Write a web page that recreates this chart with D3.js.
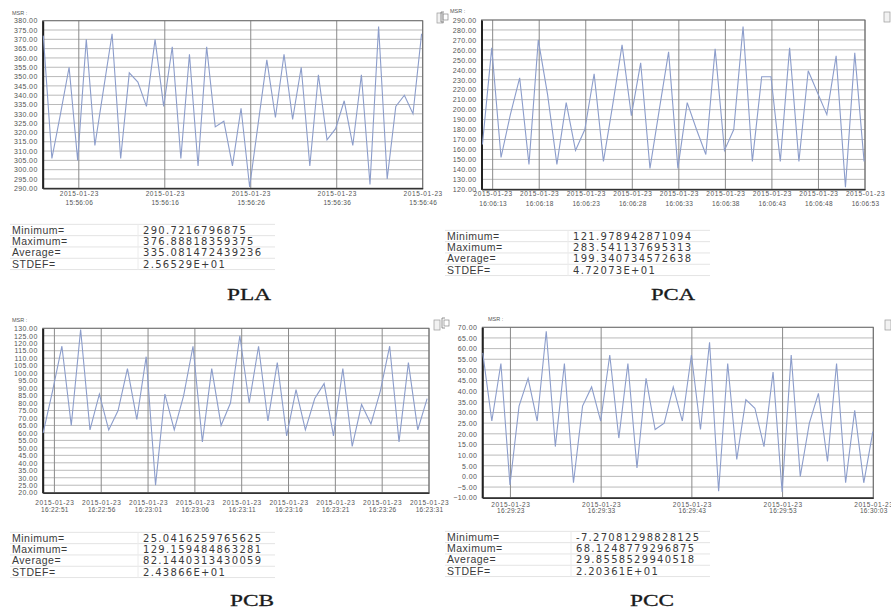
<!DOCTYPE html>
<html><head><meta charset="utf-8">
<script src="https://cdn.jsdelivr.net/npm/d3@7/dist/d3.min.js"></script>
<style>body{margin:0;background:#fff}svg{display:block}</style>
</head><body>
<svg id="c" width="891" height="612"></svg>
<script>
// ---------- data ----------
const dateLabel = "2015-01-23";
const statLabels = ["Minimum=", "Maximum=", "Average=", "STDEF="];

const plaValues = [372, 306, 330, 355, 305, 370, 313, 343, 373, 306, 352, 347, 334, 370, 334, 366, 306, 362, 302, 366, 323, 326, 302, 333, 290.72, 325, 359, 328, 362, 327, 355, 302, 351, 316, 322, 337, 313, 351, 292, 376.89, 295, 334, 340, 330, 373];
const pcaValues = [165, 262, 152, 195, 232, 145, 270, 215, 145, 207, 159, 180, 236, 148, 205, 265, 194, 247, 141, 200, 258, 141, 207, 180, 155, 261, 159, 180, 283.54, 148, 233, 233, 148, 262, 148, 239, 217, 195, 254, 121.98, 257, 148];
const pcbValues = [60, 88, 118, 65, 129.16, 62, 86, 62, 75, 103, 69, 111, 25.04, 86, 62, 85, 118, 54, 103, 65, 80, 125, 80, 118, 68, 107, 58, 89, 62, 83, 93, 58, 103, 51, 79, 66, 88, 118, 54, 107, 62, 83];
const pccValues = [58, 26, 53, -4, 33, 46, 26, 68.12, 14, 53, -3, 33, 42, 26, 57, 18, 53, 4, 46, 22, 25, 42, 26, 57, 22, 63, -7, 53, 8, 36, 32, 14, 49, -7.27, 57, 0, 25, 39, 7, 53, -3, 31, -3, 21];

const plaYTicks = [290, 295, 300, 305, 310, 315, 320, 325, 330, 335, 340, 345, 350, 355, 360, 365, 370, 375, 380];
const pcaYTicks = [120, 130, 140, 150, 160, 170, 180, 190, 200, 210, 220, 230, 240, 250, 260, 270, 280, 290];
const pcbYTicks = [20, 25, 30, 35, 40, 45, 50, 55, 60, 65, 70, 75, 80, 85, 90, 95, 100, 105, 110, 115, 120, 125, 130];
const pccYTicks = [-10, -5, 0, 5, 10, 15, 20, 25, 30, 35, 40, 45, 50, 55, 60, 65, 70];

const plaXTicks = ["15:56:06", "15:56:16", "15:56:26", "15:56:36", "15:56:46"];
const pcaXTicks = ["16:06:13", "16:06:18", "16:06:23", "16:06:28", "16:06:33", "16:06:38", "16:06:43", "16:06:48", "16:06:53"];
const pcbXTicks = ["16:22:51", "16:22:56", "16:23:01", "16:23:06", "16:23:11", "16:23:16", "16:23:21", "16:23:26", "16:23:31"];
const pccXTicks = ["16:29:23", "16:29:33", "16:29:43", "16:29:53", "16:30:03"];

const plaStats = ["290.7216796875", "376.88818359375", "335.081472439236", "2.56529E+01"];
const pcaStats = ["121.978942871094", "283.541137695313", "199.340734572638", "4.72073E+01"];
const pcbStats = ["25.0416259765625", "129.159484863281", "82.1440313430059", "2.43866E+01"];
const pccStats = ["-7.27081298828125", "68.1248779296875", "29.8558529940518", "2.20361E+01"];

const captions = ["PLA", "PCA", "PCB", "PCC"];

// ---------- layout ----------
const parseT = d3.timeParse("%Y-%m-%d %H:%M:%S.%L");
const T = s => parseT(dateLabel + " " + (s.includes(".") ? s : s + ".000"));

const panels = [
  {values: plaValues, yTicks: plaYTicks, xTicks: plaXTicks, stats: plaStats, caption: captions[0],
   first: "15:56:01.870", dom: ["15:56:01.800", "15:56:46.000"],
   x0: 42.7, x1: 422.7, y0: 20.7, y1: 188.3, dGap: 8, tGap: 17, msr: [12, 15],
   tx: 12, tv: 143, ty: 230, cap: [249, 300], iconR: [437, 13]},
  {values: pcaValues, yTicks: pcaYTicks, xTicks: pcaXTicks, stats: pcaStats, caption: captions[1],
   first: "16:06:11.900", dom: ["16:06:11.800", "16:06:53.000"],
   x0: 481.5, x1: 865, y0: 20, y1: 189.3, dGap: 7, tGap: 17, msr: [450, 13],
   tx: 447, tv: 573, ty: 236, cap: [673, 300], iconL: [441, 12], iconR: [884, 12]},
  {values: pcbValues, yTicks: pcbYTicks, xTicks: pcbXTicks, stats: pcbStats, caption: captions[2],
   first: "16:22:49.800", dom: ["16:22:49.750", "16:23:31.000"],
   x0: 42.7, x1: 429, y0: 328.3, y1: 492.7, dGap: 12.5, tGap: 19.5, msr: [12, 322],
   tx: 12, tv: 143, ty: 538, cap: [252, 606], iconR: [434, 320]},
  {values: pccValues, yTicks: pccYTicks, xTicks: pccXTicks, stats: pccStats, caption: captions[3],
   first: "16:29:19.950", dom: ["16:29:19.900", "16:30:03.000"],
   x0: 482.3, x1: 873.3, y0: 327.3, y1: 497.7, dGap: 9, tGap: 15.5, msr: [488, 321],
   tx: 447, tv: 576, ty: 537, cap: [652, 606], iconL: [442, 318], iconR: [885, 320]}
];

const svg = d3.select("#c");
const FONT = "'Liberation Sans', Arial, sans-serif";
const VFONT = "'DejaVu Sans', Verdana, sans-serif";

panels.forEach(p => {
  const g = svg.append("g");
  const t0 = T(p.first);
  const pts = p.values.map((v, i) => ({t: d3.timeSecond.offset(t0, i), v}));
  const x = d3.scaleTime().domain([T(p.dom[0]), T(p.dom[1])]).range([p.x0, p.x1]);
  const yMin = d3.min(p.yTicks), yMax = d3.max(p.yTicks);
  const y = d3.scaleLinear().domain([yMin, yMax]).range([p.y1, p.y0]);

  // horizontal grid
  g.append("g").selectAll("line").data(p.yTicks).join("line")
    .attr("x1", p.x0).attr("x2", p.x1)
    .attr("y1", d => y(d)).attr("y2", d => y(d))
    .attr("stroke", "#a8a8a8").attr("stroke-width", 0.8);

  // vertical grid
  const xt = p.xTicks.map(s => T(s));
  g.append("g").selectAll("line").data(xt).join("line")
    .attr("x1", d => x(d)).attr("x2", d => x(d))
    .attr("y1", p.y0).attr("y2", p.y1)
    .attr("stroke", "#8a8a8a").attr("stroke-width", 1);

  // frame
  g.append("rect").attr("x", p.x0).attr("y", p.y0)
    .attr("width", p.x1 - p.x0).attr("height", p.y1 - p.y0)
    .attr("fill", "none").attr("stroke", "#6e6e6e").attr("stroke-width", 1);

  // y axis
  const ya = d3.axisLeft(y).tickValues(p.yTicks).tickFormat(d3.format(".2f")).tickSize(0).tickPadding(5);
  const yg = g.append("g").attr("transform", `translate(${p.x0},0)`).call(ya);
  yg.select(".domain").attr("stroke", "#222").attr("stroke-width", 2);
  yg.selectAll("text").attr("font-family", FONT).attr("font-size", 7)
    .attr("letter-spacing", 0.4).attr("fill", "#555");

  // x axis
  const xa = d3.axisBottom(x).tickValues(xt).tickSize(0).tickFormat(() => "");
  const xg = g.append("g").attr("transform", `translate(0,${p.y1})`).call(xa);
  xg.select(".domain").attr("stroke", "#333").attr("stroke-width", 1.5);
  xg.selectAll(".tick text").remove();
  xg.selectAll(".tick").each(function(d, i) {
    const tk = d3.select(this);
    tk.append("text").attr("y", p.dGap).attr("text-anchor", "middle")
      .attr("font-family", FONT).attr("font-size", 6.5).attr("letter-spacing", 0.6)
      .attr("fill", "#555").text(dateLabel);
    tk.append("text").attr("y", p.tGap).attr("text-anchor", "middle")
      .attr("font-family", FONT).attr("font-size", 6.5).attr("letter-spacing", 0.3)
      .attr("fill", "#555").text(p.xTicks[i]);
  });

  // line
  const line = d3.line().x(d => x(d.t)).y(d => y(d.v));
  g.append("path").datum(pts).attr("d", line)
    .attr("fill", "none").attr("stroke", "#8c9dcb").attr("stroke-width", 1.1)
    .attr("stroke-linejoin", "miter");

  // MSR label
  g.append("text").attr("x", p.msr[0]).attr("y", p.msr[1])
    .attr("font-family", FONT).attr("font-size", 5.5).attr("fill", "#555").text("MSR :");

  // little window icons
  if (p.iconL) {
    g.append("path").attr("d", `M${p.iconL[0] + 3},${p.iconL[1]} h-3 v10 h3`)
      .attr("fill", "none").attr("stroke", "#777").attr("stroke-width", 0.8);
    g.append("rect").attr("x", p.iconL[0] + 2).attr("y", p.iconL[1] + 2).attr("width", 5).attr("height", 6)
      .attr("fill", "none").attr("stroke", "#888").attr("stroke-width", 0.7);
  }
  if (p.iconR) {
    g.append("rect").attr("x", p.iconR[0]).attr("y", p.iconR[1]).attr("width", 6).attr("height", 10)
      .attr("fill", "#f2f2f2").attr("stroke", "#999").attr("stroke-width", 0.7);
  }

  // stats table
  const rowH = 11.3;
  const tb = g.append("g");
  const tW = 265;
  for (let r = 0; r <= statLabels.length; r++) {
    tb.append("line").attr("x1", p.tx - 2).attr("x2", p.tx - 2 + tW)
      .attr("y1", p.ty - rowH / 2 + r * rowH).attr("y2", p.ty - rowH / 2 + r * rowH)
      .attr("stroke", "#e4e4e4").attr("stroke-width", 1);
  }
  tb.append("line").attr("x1", p.tv - 5).attr("x2", p.tv - 5)
    .attr("y1", p.ty - rowH / 2).attr("y2", p.ty - rowH / 2 + 4 * rowH)
    .attr("stroke", "#ececec");
  statLabels.forEach((lab, r) => {
    tb.append("text").attr("x", p.tx).attr("y", p.ty + r * rowH + 3.6)
      .attr("font-family", FONT).attr("font-size", 10.5).attr("letter-spacing", 0.5)
      .attr("fill", "#3a3a3a").text(lab);
    tb.append("text").attr("x", p.tv).attr("y", p.ty + r * rowH + 3.6)
      .attr("font-family", VFONT).attr("font-size", 10).attr("letter-spacing", 1.3)
      .attr("fill", "#3a3a3a").text(p.stats[r]);
  });

  // caption
  g.append("text").attr("x", p.cap[0] - 22).attr("y", p.cap[1])
    .attr("font-family", "'Liberation Serif', 'Times New Roman', serif").attr("font-size", 16)
    .attr("textLength", 44).attr("lengthAdjust", "spacingAndGlyphs")
    .attr("stroke", "#1a1a1a").attr("stroke-width", 0.3)
    .attr("fill", "#1a1a1a").text(p.caption);
});
</script>
</body></html>
